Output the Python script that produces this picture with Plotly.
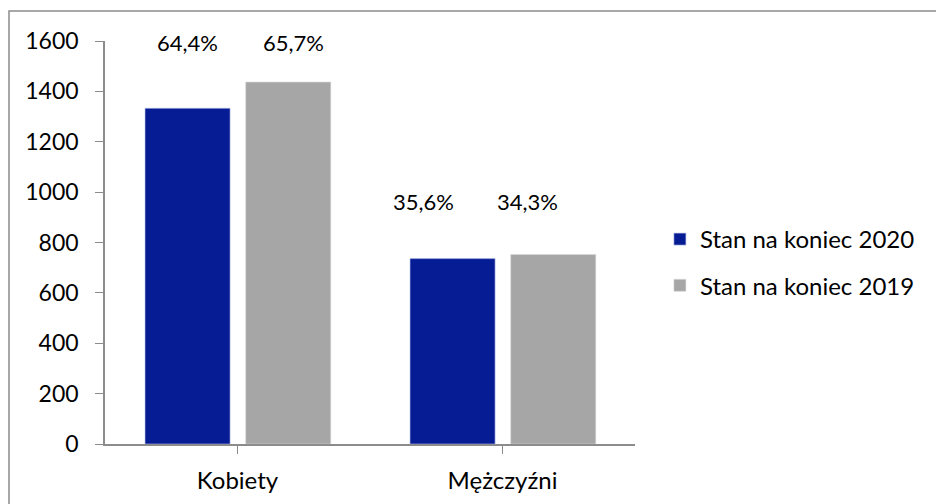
import plotly.graph_objects as go

categories = ["Kobiety", "Mężczyźni"]
series_names = ["Stan na koniec 2020", "Stan na koniec 2019"]
values_2020 = [1333, 736]
values_2019 = [1437, 752]
share_labels = ["64,4%", "65,7%", "35,6%", "34,3%"]
y_ticks = [0, 200, 400, 600, 800, 1000, 1200, 1400, 1600]

BLUE = "#061C94"
GRAY = "#A6A6A6"
FONT = "Lato"

fig = go.Figure()
fig.add_trace(go.Bar(
    x=[0, 1], y=values_2020, name=series_names[0], legendgroup="a",
    marker=dict(color=BLUE, line=dict(color="#B8C0E8", width=0.6)),
    width=0.321, offset=-0.349,
))
fig.add_trace(go.Bar(
    x=[0, 1], y=values_2019, name=series_names[1], legendgroup="b",
    marker=dict(color=GRAY, line=dict(color="#D9D9D9", width=0.6)),
    width=0.321, offset=0.031,
))

# percentage annotations (positions in data coords)
ann_pos = [(-0.19, 1596), (0.213, 1596), (0.70, 961), (1.096, 961)]
annotations = []
for (ax_, ay_), t in zip(ann_pos, share_labels):
    annotations.append(dict(x=ax_, y=ay_, xref="x", yref="y", text=t,
                            showarrow=False, font=dict(family=FONT, size=22, color="#000"),
                            xanchor="center", yanchor="middle"))

fig.update_layout(
    width=936, height=504,
    margin=dict(l=105, r=301, t=41, b=60, autoexpand=False),
    paper_bgcolor="white", plot_bgcolor="white",
    barmode="overlay",
    font=dict(family=FONT, size=22, color="#000"),
    showlegend=True,
    legend=dict(x=1.047, y=0.4504, xanchor="left", yanchor="middle",
                font=dict(family=FONT, size=24, color="#000"),
                tracegroupgap=12, itemwidth=30, bgcolor="rgba(0,0,0,0)"),
    annotations=annotations,
    xaxis=dict(
        range=[-0.5, 1.5], tickmode="array", tickvals=[0, 1], ticktext=categories,
        tickson="boundaries", ticks="outside", ticklen=8, tickcolor="#8C8C8C",
        showline=True, linecolor="#8C8C8C", linewidth=1.5, showgrid=False,
        zeroline=False, tickfont=dict(family=FONT, size=24), ticklabelstandoff=6,
        fixedrange=True, automargin=False,
    ),
    yaxis=dict(
        range=[0, 1600], tickmode="array", tickvals=y_ticks,
        ticks="outside", ticklen=8, tickcolor="#8C8C8C",
        showline=True, linecolor="#8C8C8C", linewidth=1.5, showgrid=False,
        zeroline=False, tickfont=dict(family=FONT, size=23), ticklabelstandoff=12,
        automargin=False,
    ),
    shapes=[dict(type="rect", xref="paper", yref="paper",
                 x0=(9 - 105) / 530, x1=(945 - 105) / 530,
                 y0=-(520 - 444) / 403, y1=1 + (41 - 11) / 403,
                 line=dict(color="#8C8C8C", width=1.5), layer="below")],
)

fig.write_html("out.html")
